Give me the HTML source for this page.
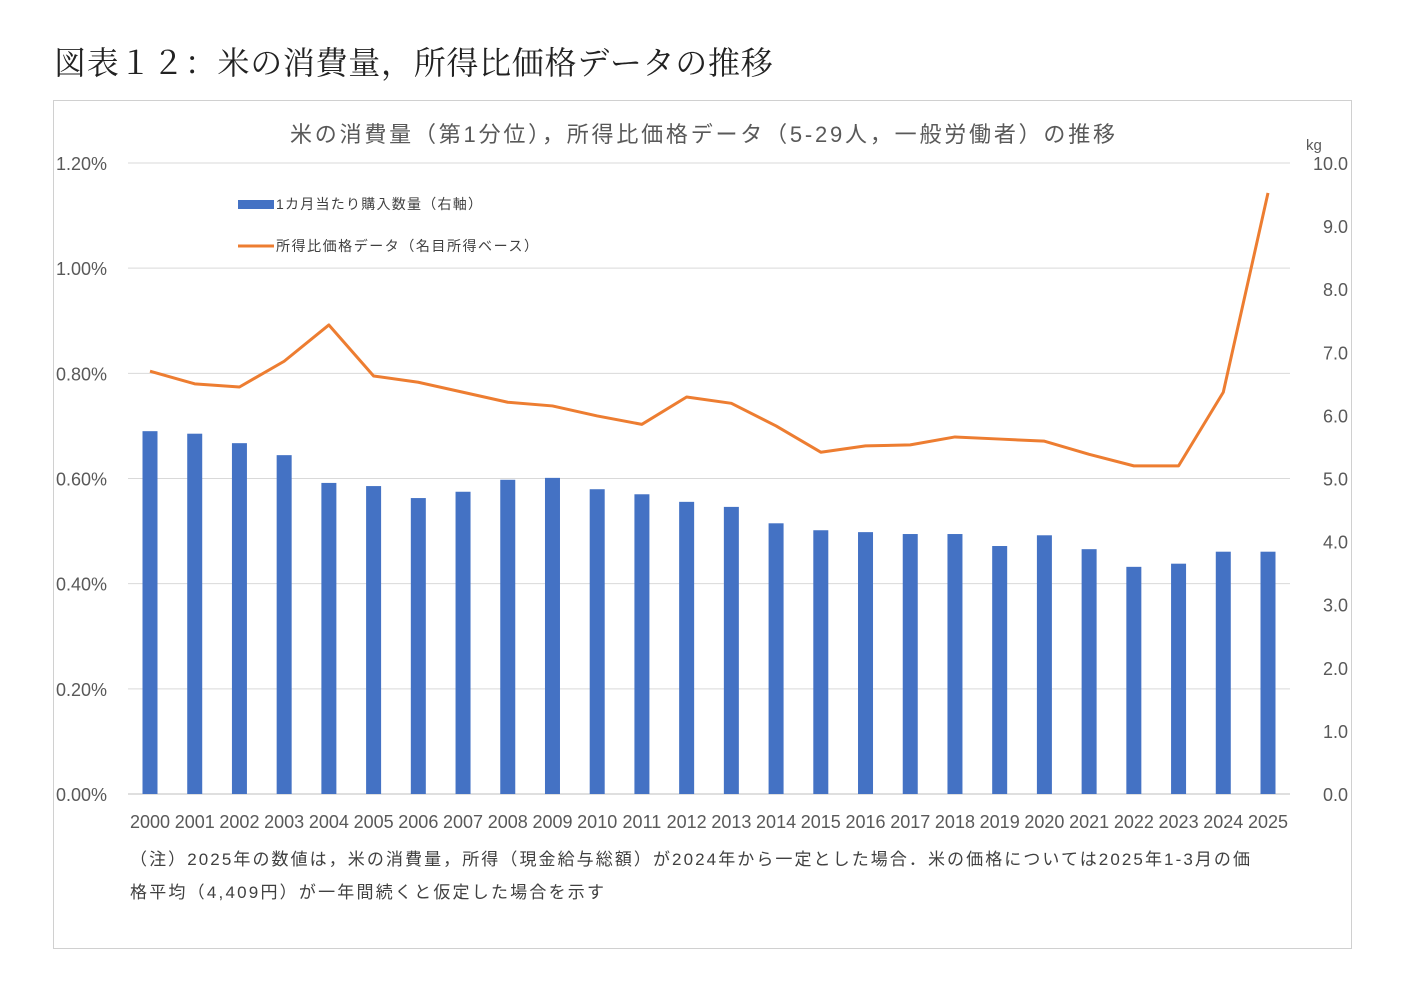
<!DOCTYPE html>
<html><head><meta charset="utf-8">
<style>
body{margin:0;background:#fff;width:1406px;height:986px;overflow:hidden;font-family:"Liberation Sans","Noto Sans CJK JP",sans-serif;}
</style></head>
<body>
<div style="position:absolute;left:54px;top:38px;font-size:32px;letter-spacing:0.7px;color:#222;font-family:'Liberation Serif','Noto Serif CJK SC','Noto Sans CJK JP',serif;">図表１２：米の消費量，所得比価格データの推移</div>
<div style="position:absolute;left:53px;top:100px;width:1297px;height:847px;border:1px solid #d0d0d0;"></div>
<svg id="chart" width="1406" height="986" style="position:absolute;left:0;top:0;font-family:'Liberation Sans','Noto Sans CJK JP',sans-serif;">
<text x="290" y="142" textLength="825" lengthAdjust="spacing" font-size="22" fill="#595959">米の消費量（第1分位），所得比価格データ（5-29人，一般労働者）の推移</text>
<text x="1306" y="150" font-size="15" fill="#595959">kg</text>
<g id="grid"></g><g id="bars"></g><g id="line"></g><g id="axes"></g>
<g>
<rect x="238" y="200" width="36" height="9" fill="#4472c4"/>
<text x="276" y="209" textLength="206" lengthAdjust="spacing" font-size="14" fill="#404040">1カ月当たり購入数量（右軸）</text>
<line x1="238" y1="246" x2="274" y2="246" stroke="#ed7d31" stroke-width="3"/>
<text x="276" y="251" textLength="262" lengthAdjust="spacing" font-size="14" fill="#404040">所得比価格データ（名目所得ベース）</text>
</g>
<text x="130" y="865" textLength="1120" lengthAdjust="spacing" font-size="17" fill="#404040">（注）2025年の数値は，米の消費量，所得（現金給与総額）が2024年から一定とした場合．米の価格については2025年1-3月の価</text>
<text x="130" y="898" textLength="474" lengthAdjust="spacing" font-size="17" fill="#404040">格平均（4,409円）が一年間続くと仮定した場合を示す</text>
</svg>
<script>
const years=["2000","2001","2002","2003","2004","2005","2006","2007","2008","2009","2010","2011","2012","2013","2014","2015","2016","2017","2018","2019","2020","2021","2022","2023","2024","2025"];
const purchaseKg=[5.75,5.71,5.56,5.37,4.93,4.88,4.69,4.79,4.98,5.01,4.83,4.75,4.63,4.55,4.29,4.18,4.15,4.12,4.12,3.93,4.10,3.88,3.60,3.65,3.84,3.84];
const priceRatio=[0.804,0.780,0.774,0.823,0.892,0.795,0.783,0.764,0.745,0.738,0.719,0.703,0.755,0.743,0.700,0.650,0.662,0.664,0.679,0.675,0.671,0.646,0.624,0.624,0.764,1.143];
const leftTicks=["0.00%","0.20%","0.40%","0.60%","0.80%","1.00%","1.20%"];
const rightTicks=["0.0","1.0","2.0","3.0","4.0","5.0","6.0","7.0","8.0","9.0","10.0"];
const NS="http://www.w3.org/2000/svg";
const y0=794,yTop=163,x0=150,dx=(1268-150)/25;
const yL=v=>y0-(v/1.2)*(y0-yTop);
const yR=v=>y0-(v/10)*(y0-yTop);
const xC=i=>x0+i*dx;
function mk(tag,attrs,parent,txt){const e=document.createElementNS(NS,tag);for(const k in attrs)e.setAttribute(k,attrs[k]);if(txt!=null)e.textContent=txt;document.getElementById(parent).appendChild(e);return e;}
leftTicks.forEach((t,i)=>{const v=i*0.2,y=yL(v);
 const g=mk('line',{x1:128,x2:1290,y1:y,y2:y,stroke:i==0?'#bfbfbf':'#d9d9d9','stroke-width':1},'grid');
 
 const l=mk('text',{x:56,y:y+7,'font-size':18,fill:'#595959'},'axes',t);
 });
rightTicks.forEach((t,i)=>{const y=yR(i);
 const l=mk('text',{x:1348,y:y+7,'font-size':18,fill:'#595959','text-anchor':'end'},'axes',t);
 });
years.forEach((yr,i)=>{
 const b=mk('rect',{x:xC(i)-7.5,y:yR(purchaseKg[i]),width:15,height:y0-yR(purchaseKg[i]),fill:'#4472c4'},'bars');
 
 const l=mk('text',{x:xC(i),y:828,'font-size':18,fill:'#595959','text-anchor':'middle'},'axes',yr);
 });
const pts=priceRatio.map((v,i)=>xC(i)+','+yL(v)).join(' ');
const pl=mk('polyline',{points:pts,fill:'none',stroke:'#ed7d31','stroke-width':3,'stroke-linejoin':'round'},'line');

</script>
</body></html>
